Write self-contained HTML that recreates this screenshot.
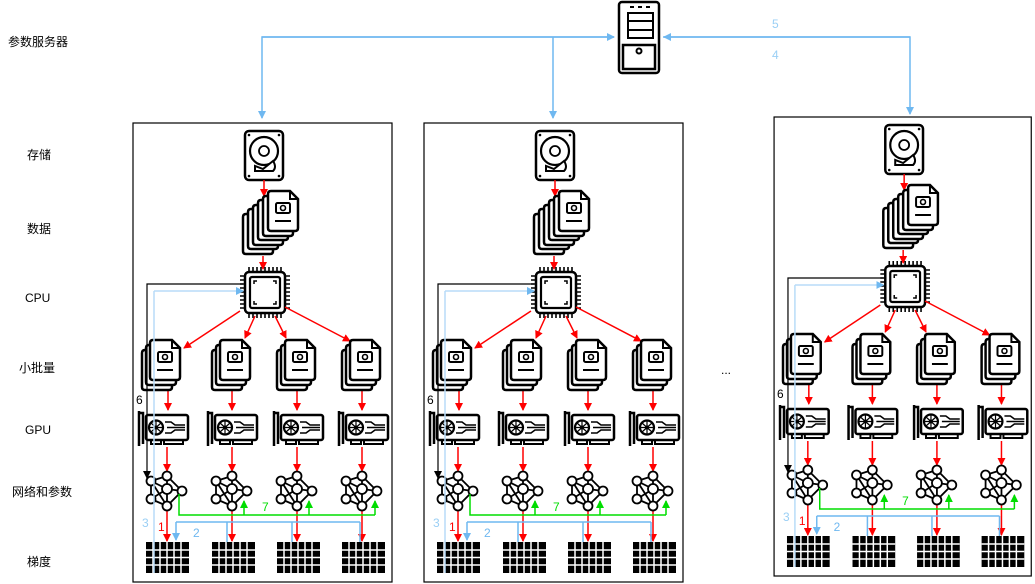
<!DOCTYPE html>
<html><head><meta charset="utf-8"><style>
html,body{margin:0;padding:0;background:#fff;}
svg{display:block;font-family:"Liberation Sans","Noto Sans CJK SC",sans-serif;}
</style></head><body>
<svg width="1035" height="584" viewBox="0 0 1035 584" xmlns="http://www.w3.org/2000/svg">
<defs>
<marker id="ar" markerWidth="8" markerHeight="8" refX="7" refY="4" orient="auto" markerUnits="userSpaceOnUse"><path d="M0,0 L8,4 L0,8 Z" fill="#f00"/></marker>
<marker id="ab" markerWidth="8" markerHeight="8" refX="7" refY="4" orient="auto" markerUnits="userSpaceOnUse"><path d="M0,0 L8,4 L0,8 Z" fill="#6fb8f0"/></marker>
<marker id="ak" markerWidth="8" markerHeight="8" refX="7" refY="4" orient="auto" markerUnits="userSpaceOnUse"><path d="M0,0 L8,4 L0,8 Z" fill="#000"/></marker>
<marker id="ag" markerWidth="8" markerHeight="8" refX="7" refY="4" orient="auto" markerUnits="userSpaceOnUse"><path d="M0,0 L8,4 L0,8 Z" fill="#0d0"/></marker>
<g id="doc">
<path d="M0,3 Q0,0 3,0 H22 L30,8 V37 Q30,40 27,40 H3 Q0,40 0,37 Z" fill="#fff" stroke="#000" stroke-width="2.5"/>
<path d="M22,0 V8 H30" fill="none" stroke="#000" stroke-width="2"/>
<rect x="8" y="12" width="14" height="10" rx="1.5" fill="none" stroke="#000" stroke-width="2"/>
<circle cx="15" cy="17" r="2.5" fill="none" stroke="#000" stroke-width="1.6"/>
<line x1="7" y1="30" x2="23" y2="30" stroke="#000" stroke-width="2"/>
</g>
<g id="mb">
<use href="#doc" x="0" y="10"/><use href="#doc" x="4" y="5"/><use href="#doc" x="8" y="0"/>
</g>
<g id="gpu">
<path d="M2,0 V35 M2,2 H6 V33" fill="none" stroke="#000" stroke-width="2.5"/>
<rect x="9" y="4" width="42" height="25" rx="2" fill="#fff" stroke="#000" stroke-width="2.5"/>
<circle cx="19" cy="16.5" r="7" fill="none" stroke="#000" stroke-width="2.2"/>
<circle cx="19" cy="16.5" r="2" fill="#000"/>
<path d="M19,10 V23 M12.5,16.5 H25.5 M14,12 L24,21 M24,12 L14,21" stroke="#000" stroke-width="1.2"/>
<path d="M28,11 H34 L38,14 H48 M28,22 H34 L38,19 H48 M30,16.5 H48" fill="none" stroke="#000" stroke-width="1.6"/>
<path d="M14,29 V33 H24 V29 M27,29 V33 H46 V29" fill="none" stroke="#000" stroke-width="2"/>
</g>
<g id="net" fill="#fff" stroke="#000" stroke-width="1.8">
<path d="M-16,-10 L0,-15 L0,-2 L15,0 L0,15 L-16,8 Z M-16,-10 L0,-2 L-16,8 M0,-15 L15,0 M0,-2 L0,15 M-16,-10 L0,15" fill="none"/>
<circle cx="-16" cy="-10" r="4.5"/><circle cx="0" cy="-15" r="4.5"/><circle cx="0" cy="-2" r="5"/>
<circle cx="15" cy="0" r="4.5"/><circle cx="-16" cy="8" r="4.5"/><circle cx="0" cy="15" r="4.5"/>
</g>
<g id="grad">
<rect x="0" y="0" width="43" height="31" fill="#000"/>
<path d="M7,0V31M14,0V31M21,0V31M28,0V31M35,0V31M0,8H43M0,15.5H43M0,23H43" stroke="#fff" stroke-width="1.5"/>
</g>
<g id="hdd">
<rect x="2" y="0" width="38" height="49" rx="4" fill="#fff" stroke="#000" stroke-width="2.5"/>
<circle cx="21" cy="20" r="14" fill="none" stroke="#000" stroke-width="2.2"/>
<circle cx="21" cy="20" r="5" fill="none" stroke="#000" stroke-width="1.8"/>
<path d="M30,30 L20,38 L12,35 L12,40 H30 Q34,36 30,30 Z" fill="#fff" stroke="#000" stroke-width="2"/>
<circle cx="6" cy="4" r="1.3" fill="#000"/><circle cx="36" cy="4" r="1.3" fill="#000"/><circle cx="6" cy="45" r="1.3" fill="#000"/><circle cx="36" cy="45" r="1.3" fill="#000"/>
</g>
<g id="cpu">
<path d="M9,0V6M13,0V6M17,0V6M21,0V6M25,0V6M29,0V6M33,0V6M37,0V6M41,0V6 M9,45V51M13,45V51M17,45V51M21,45V51M25,45V51M29,45V51M33,45V51M37,45V51M41,45V51 M0,9H6M0,13H6M0,17H6M0,21H6M0,25H6M0,29H6M0,33H6M0,37H6M0,41H6 M44,9H50M44,13H50M44,17H50M44,21H50M44,25H50M44,29H50M44,33H50M44,37H50M44,41H50" stroke="#000" stroke-width="1.6"/>
<rect x="5" y="5" width="40" height="41" rx="4" fill="#fff" stroke="#000" stroke-width="2.5"/>
<rect x="10" y="10" width="30" height="31" rx="2" fill="none" stroke="#000" stroke-width="2.2"/>
<path d="M14,17V14H17 M36,17V14H33 M14,34V37H17 M36,34V37H33" fill="none" stroke="#000" stroke-width="1.5"/>
</g>
<g id="cl">
<rect x="133" y="123" width="259" height="459" fill="none" stroke="#000" stroke-width="1.2"/>
<use href="#hdd" x="243" y="131"/>
<line x1="264" y1="180" x2="264" y2="196" stroke="#f00" stroke-width="1.5" marker-end="url(#ar)"/>
<use href="#doc" x="243" y="214"/><use href="#doc" x="248" y="209"/><use href="#doc" x="253" y="205"/><use href="#doc" x="258" y="200"/><use href="#doc" x="263" y="196"/><use href="#doc" x="268" y="191"/>
<line x1="263" y1="256" x2="263" y2="269" stroke="#f00" stroke-width="1.5" marker-end="url(#ar)"/>
<use href="#cpu" x="240" y="267"/>
<g stroke="#f00" stroke-width="1.5" marker-end="url(#ar)">
<line x1="240" y1="311" x2="184" y2="348"/><line x1="255" y1="316" x2="245" y2="338"/>
<line x1="275" y1="316" x2="286" y2="338"/><line x1="285" y1="307" x2="350" y2="341"/>
<line x1="168" y1="391" x2="168" y2="410"/><line x1="232" y1="391" x2="232" y2="410"/><line x1="297" y1="391" x2="297" y2="410"/><line x1="362" y1="391" x2="362" y2="410"/>
<line x1="167" y1="447" x2="167" y2="471"/><line x1="232" y1="447" x2="232" y2="471"/><line x1="297" y1="447" x2="297" y2="471"/><line x1="362" y1="447" x2="362" y2="471"/>
<line x1="167" y1="511" x2="167" y2="541"/><line x1="232" y1="511" x2="232" y2="541"/><line x1="297" y1="511" x2="297" y2="541"/><line x1="362" y1="511" x2="362" y2="541"/>
</g>
<use href="#mb" x="142" y="340"/><use href="#mb" x="212" y="340"/><use href="#mb" x="277" y="340"/><use href="#mb" x="342" y="340"/>
<use href="#gpu" x="137" y="411"/><use href="#gpu" x="206" y="411"/><use href="#gpu" x="272" y="411"/><use href="#gpu" x="337" y="411"/>
<use href="#net" x="167" y="491"/><use href="#net" x="232" y="491"/><use href="#net" x="297" y="491"/><use href="#net" x="362" y="491"/>
<use href="#grad" x="146" y="542"/><use href="#grad" x="212" y="542"/><use href="#grad" x="277" y="542"/><use href="#grad" x="342" y="542"/>
<path d="M179,494 V515 H375" fill="none" stroke="#0d0" stroke-width="1.5"/>
<g stroke="#0d0" stroke-width="1.5" marker-end="url(#ag)"><line x1="244" y1="515" x2="244" y2="501"/><line x1="309" y1="515" x2="309" y2="501"/><line x1="375" y1="515" x2="375" y2="501"/></g>
<text x="262" y="511" fill="#0d0" font-size="12">7</text>
<path d="M176,522 H360 M227,522 V542 M292,522 V542 M360,522 V542" fill="none" stroke="#6fb8f0" stroke-width="1.5"/>
<line x1="176" y1="522" x2="176" y2="540" stroke="#6fb8f0" stroke-width="1.5" marker-end="url(#ab)"/>
<text x="193" y="537" fill="#6fb8f0" font-size="12">2</text>
<path d="M154,573 V291" fill="none" stroke="#b8dcf8" stroke-width="1.5"/>
<line x1="154" y1="291" x2="243" y2="291" stroke="#b8dcf8" stroke-width="1.5" marker-end="url(#ab)"/>
<text x="142" y="527" fill="#9acff5" font-size="12">3</text>
<path d="M243,284 H147 V478" fill="none" stroke="#000" stroke-width="1.2" marker-end="url(#ak)"/>
<text x="136" y="404" fill="#000" font-size="12">6</text>
<text x="158" y="531" fill="#f00" font-size="12">1</text>
</g>
</defs>
<g font-size="12" fill="#000">
<text x="8" y="46">参数服务器</text><text x="27" y="159">存储</text><text x="27" y="233">数据</text>
<text x="25" y="302">CPU</text><text x="19" y="372">小批量</text><text x="25" y="434">GPU</text>
<text x="12" y="496">网络和参数</text><text x="27" y="566">梯度</text>
<text x="721" y="374">...</text>
</g>
<use href="#cl"/>
<use href="#cl" x="291"/>
<use href="#cl" transform="translate(642,-6) scale(0.993,1)"/>
<!-- server -->
<g fill="none" stroke="#000" stroke-width="2.5">
<rect x="619" y="2" width="40" height="71" rx="3"/>
<path d="M623,45 H655 V69 H623 Z"/>
<path d="M628,13 H653 V38 H628 Z M628,21 H653 M628,30 H653" stroke-width="2"/>
<path d="M630,7 H634 M638,7 H642 M646,7 H650" stroke-width="2"/>
</g>
<circle cx="639" cy="51" r="2.5" fill="none" stroke="#000" stroke-width="2"/>
<g stroke="#6fb8f0" stroke-width="1.5" fill="none">
<path d="M614,37 H262 V118" marker-end="url(#ab)"/>
<line x1="262" y1="37" x2="614" y2="37" marker-end="url(#ab)"/>
<line x1="553" y1="37" x2="553" y2="118" marker-end="url(#ab)"/>
<path d="M663,37 H910 V114" marker-end="url(#ab)"/>
<line x1="910" y1="37" x2="664" y2="37" marker-end="url(#ab)"/>
</g>
<text x="772" y="28" fill="#9acff5" font-size="12">5</text>
<text x="772" y="59" fill="#9acff5" font-size="12">4</text>
</svg>
</body></html>
